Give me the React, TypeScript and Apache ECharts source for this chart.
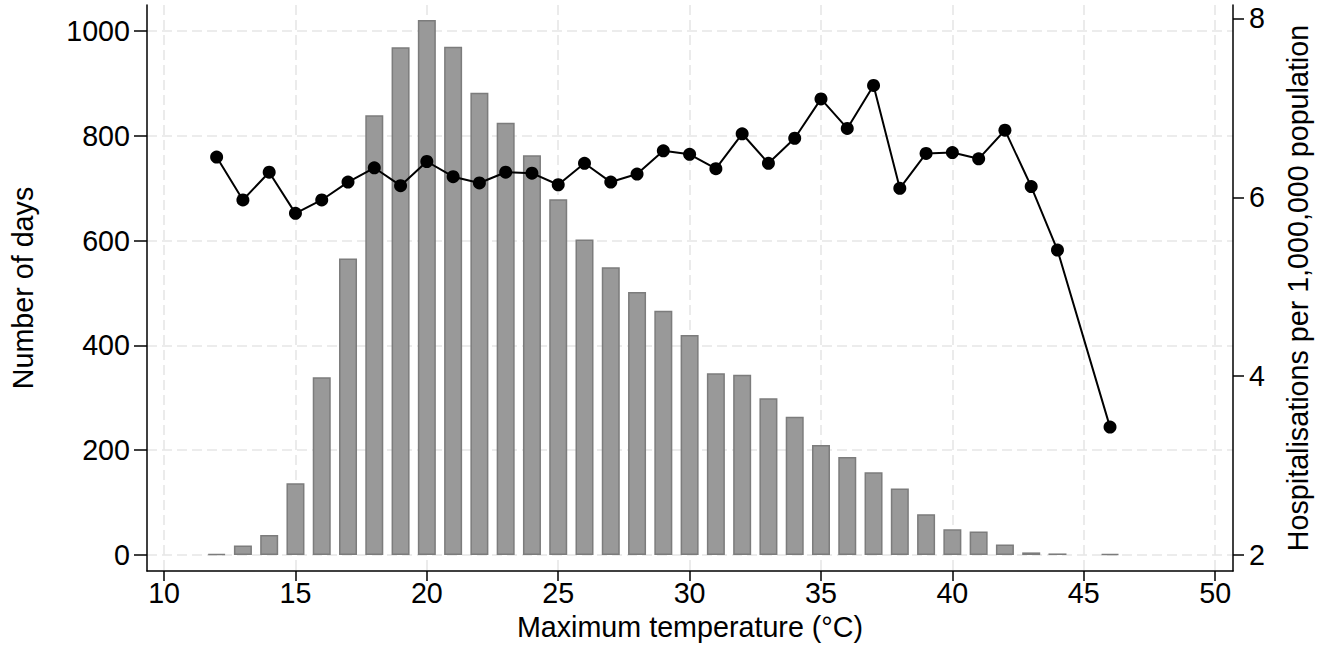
import React, { useEffect, useRef } from "react";
import * as echarts from "echarts";

const temps = [12, 13, 14, 15, 16, 17, 18, 19, 20, 21, 22, 23, 24, 25, 26, 27, 28, 29, 30, 31, 32, 33, 34, 35, 36, 37, 38, 39, 40, 41, 42, 43, 44, 46];
const days = [2, 18, 38, 137, 339, 566, 839, 969, 1021, 970, 882, 825, 763, 679, 602, 549, 502, 466, 420, 347, 344, 299, 264, 210, 187, 158, 127, 78, 49, 45, 20, 5, 3, 2];
const hosp = [6.45, 5.97, 6.28, 5.82, 5.97, 6.17, 6.33, 6.13, 6.40, 6.23, 6.16, 6.28, 6.27, 6.14, 6.38, 6.17, 6.26, 6.52, 6.48, 6.32, 6.71, 6.38, 6.66, 7.10, 6.77, 7.25, 6.10, 6.49, 6.50, 6.43, 6.75, 6.12, 5.41, 3.43];

const xTicks = [10, 15, 20, 25, 30, 35, 40, 45, 50];
const leftTicks = [0, 200, 400, 600, 800, 1000];
const rightTicks = [2, 4, 6, 8];

const FONT = "'Liberation Sans', Arial, Helvetica, sans-serif";

export default function App() {
  const ref = useRef<HTMLDivElement>(null);
  useEffect(() => {
    if (!ref.current) return;
    const chart = echarts.init(ref.current, null, { renderer: "svg" });
    const txt = { color: "#000", fontSize: 28.7, fontFamily: FONT };
    const plain = (v: number) => String(v);
    const axisLine = { show: true, onZero: false, lineStyle: { color: "#000", width: 1.5 } };
    const grid = { show: true, lineStyle: { color: "#e6e6e6", width: 1.6, type: [10, 5] as any } };
    chart.setOption({
      animation: false,
      backgroundColor: "#fff",
      grid: { left: 137, right: 84, top: 5, bottom: 74, containLabel: false },
      xAxis: {
        type: "value",
        min: 9.35,
        max: 50.68,
        axisLine,
        axisTick: { show: true, length: 10, lineStyle: { color: "#000", width: 1.5 }, customValues: xTicks },
        axisLabel: { ...txt, margin: 7, customValues: xTicks, formatter: plain },
        splitLine: grid,
        name: "Maximum temperature (°C)",
        nameLocation: "middle",
        nameGap: 41,
        nameTextStyle: txt,
      },
      yAxis: [
        {
          type: "value",
          position: "left",
          min: -30.5,
          max: 1049.5,
          axisLine,
          axisTick: { show: true, length: 13, lineStyle: { color: "#000", width: 1.5 }, customValues: leftTicks },
          axisLabel: { ...txt, margin: 17, customValues: leftTicks, formatter: plain },
          splitLine: grid,
          name: "Number of days",
          nameLocation: "middle",
          nameGap: 110,
          nameRotate: 90,
          nameTextStyle: txt,
        },
        {
          type: "value",
          position: "right",
          min: 1.821,
          max: 8.15,
          axisLine,
          axisTick: { show: true, length: 11, lineStyle: { color: "#000", width: 1.5 }, customValues: rightTicks },
          axisLabel: { ...txt, margin: 16, customValues: rightTicks, formatter: plain },
          splitLine: { show: false },
          name: "Hospitalisations per 1,000,000 population",
          nameLocation: "middle",
          nameGap: 50,
          nameRotate: 90,
          nameTextStyle: txt,
        },
      ],
      series: [
        {
          type: "bar",
          yAxisIndex: 0,
          barWidth: 18,
          data: temps.map((t, i) => [t, days[i]]),
          itemStyle: { color: "#999999", borderColor: "#7c7c7c", borderWidth: 1.5 },
          z: 2,
        },
        {
          type: "line",
          yAxisIndex: 1,
          data: temps.map((t, i) => [t, hosp[i]]),
          symbol: "circle",
          symbolSize: 13,
          lineStyle: { color: "#000", width: 2 },
          itemStyle: { color: "#000" },
          z: 3,
        },
      ],
    });
    return () => chart.dispose();
  }, []);
  return (
    <div
      ref={ref}
      style={{ position: "fixed", left: 0, top: 0, width: 1320, height: 646, background: "#fff" }}
    />
  );
}
